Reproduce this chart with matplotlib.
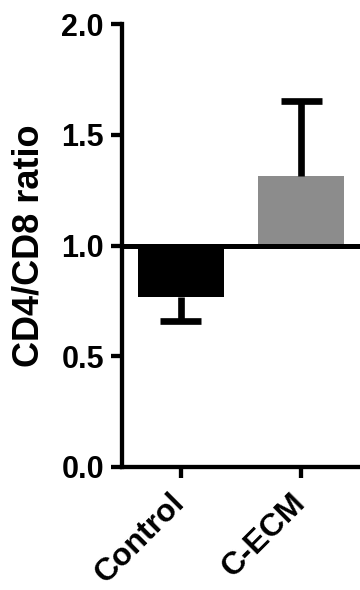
import matplotlib
matplotlib.use("Agg")
import matplotlib.pyplot as plt
import matplotlib.transforms as mtransforms

# Data
groups = ["Control", "C-ECM"]
ratio = [0.77, 1.315]
err = [0.11, 0.34]
colors = ["#000000", "#8c8c8c"]
baseline = 1.0
yticks = [0.0, 0.5, 1.0, 1.5, 2.0]

plt.rcParams['font.family'] = ['Liberation Sans', 'DejaVu Sans']
plt.rcParams['font.weight'] = 'bold'

fig = plt.figure(figsize=(3.6, 5.9), dpi=100)
ax = fig.add_axes([0.339, 0.2085, 0.661, 0.7505])

x = list(range(len(groups)))
heights = [r - baseline for r in ratio]
ax.bar(x, heights, bottom=baseline, width=0.71, color=colors, zorder=2)

# one-sided error bars, away from the baseline, cap only on the far end
cap_half = 0.17
for xi, r, e in zip(x, ratio, err):
    end = r - e if r < baseline else r + e
    ax.vlines(xi, r, end, color='black', lw=4.8, zorder=3)
    ax.hlines(end, xi - cap_half, xi + cap_half, color='black', lw=4.8, zorder=3)

ax.axhline(baseline, color='black', lw=3.6, zorder=4)

ax.set_xlim(-0.49, 1.49)
ax.set_ylim(0, 2.0)
ax.set_yticks(yticks)
ax.set_yticklabels([f"{t:.1f}" for t in yticks], fontsize=22, fontweight='bold')
ax.set_xticks(x)
ax.set_xticklabels(groups, rotation=45, ha='right', rotation_mode='anchor',
                   fontsize=23, fontweight='bold')
ax.set_ylabel("CD4/CD8 ratio", fontsize=26, fontweight='bold', labelpad=11)

for s in ['top', 'right']:
    ax.spines[s].set_visible(False)
for s in ['left', 'bottom']:
    ax.spines[s].set_linewidth(3.1)
ax.tick_params(axis='both', width=3.1, length=8)
ax.tick_params(axis='y', pad=5)
ax.tick_params(axis='x', pad=7)

shift = mtransforms.ScaledTranslation(-8 / 72, 0, fig.dpi_scale_trans)
for lbl in ax.get_xticklabels():
    lbl.set_transform(lbl.get_transform() + shift)

fig.savefig("out.png", dpi=100)
